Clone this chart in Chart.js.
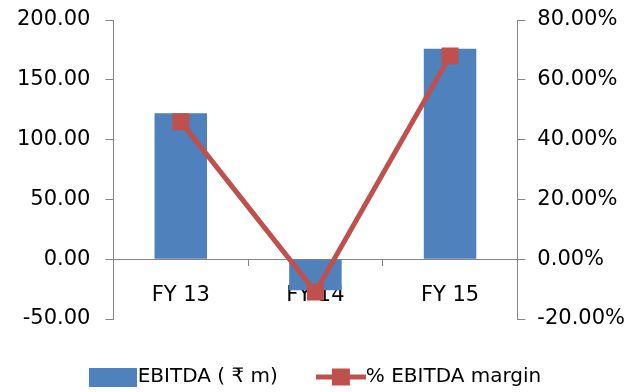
<!DOCTYPE html>
<html>
<head>
<meta charset="utf-8">
<script src="https://cdn.jsdelivr.net/npm/chart.js@4/dist/chart.umd.min.js"></script>
<style>
  html, body { margin: 0; padding: 0; background: #fff; }
  #wrap { width: 638px; height: 392px; }
</style>
</head>
<body>
<div id="wrap"><canvas id="c" width="638" height="392"></canvas></div>
<script>
// EBITDA (₹ m) and EBITDA margin (%) by financial year
const categories = ['FY 13', 'FY 14', 'FY 15'];
const ebitda = [122, -26, 176];
const ebitdaMargin = [46, -11, 68];
const leftTicks = [-50, 0, 50, 100, 150, 200];
const rightTicks = [-20, 0, 20, 40, 60, 80];
const seriesNames = ['EBITDA ( \u20B9 m)', '% EBITDA margin'];

const BLUE = '#4F81BD';
const RED = '#C0504D';
const AXIS = '#868686';
const FONT = 'DejaVu Sans';

// small canvases used as legend symbols
function swatch(w, h, paint) {
  const c = document.createElement('canvas');
  c.width = w; c.height = h;
  paint(c.getContext('2d'));
  return c;
}
const barIcon = swatch(48, 19, g => { g.fillStyle = BLUE; g.fillRect(0, 0, 48, 19); });
const lineIcon = swatch(50, 19, g => {
  g.fillStyle = RED;
  g.fillRect(0, 7, 50, 5);
  g.fillRect(16, 1, 18, 17);
});

const fixedTicks = list => scale => { scale.ticks = list.map(v => ({ value: v })); };
// let the end labels overhang the plot area instead of shrinking it
const noEndPadding = scale => { scale.paddingTop = 0; scale.paddingBottom = 0; };

new Chart(document.getElementById('c'), {
  data: {
    labels: categories,
    datasets: [
      {
        type: 'bar',
        label: seriesNames[0],
        data: ebitda,
        yAxisID: 'y',
        backgroundColor: BLUE,
        borderWidth: 0,
        barPercentage: 0.39,
        categoryPercentage: 1,
        order: 2
      },
      {
        type: 'line',
        label: seriesNames[1],
        data: ebitdaMargin,
        yAxisID: 'y1',
        borderColor: RED,
        borderWidth: 5,
        backgroundColor: RED,
        pointStyle: 'rect',
        pointRadius: 12,
        pointBorderWidth: 0,
        pointBackgroundColor: RED,
        tension: 0,
        order: 1
      }
    ]
  },
  options: {
    responsive: false,
    animation: false,
    layout: { padding: { left: 2, right: 1, top: 20, bottom: -5 } },
    plugins: {
      tooltip: { enabled: false },
      legend: {
        position: 'bottom',
        labels: {
          usePointStyle: true,
          pointStyleWidth: 30,
          padding: 48,
          color: '#000',
          font: { family: FONT, size: 20 },
          generateLabels: () => [
            { text: seriesNames[0], pointStyle: barIcon, datasetIndex: 0, hidden: false, lineWidth: 0 },
            { text: seriesNames[1], pointStyle: lineIcon, datasetIndex: 1, hidden: false, lineWidth: 0 }
          ]
        }
      }
    },
    scales: {
      x: {
        type: 'category',
        position: { y: 0 },
        z: 1,
        offset: true,
        grid: { offset: true, drawOnChartArea: false, drawTicks: true, tickLength: 6, color: AXIS },
        border: { color: AXIS, width: 1 },
        ticks: { color: '#000', font: { family: FONT, size: 21 }, padding: 18, maxRotation: 0 }
      },
      y: {
        type: 'linear',
        position: 'left',
        min: leftTicks[0],
        max: leftTicks[leftTicks.length - 1],
        afterBuildTicks: fixedTicks(leftTicks),
        afterFit: noEndPadding,
        grid: { drawOnChartArea: false, drawTicks: true, tickLength: 8, color: AXIS },
        border: { color: AXIS, width: 1 },
        ticks: { color: '#000', font: { family: FONT, size: 21 }, padding: 15,
                 callback: v => v.toFixed(2) }
      },
      y1: {
        type: 'linear',
        position: 'right',
        min: rightTicks[0],
        max: rightTicks[rightTicks.length - 1],
        afterBuildTicks: fixedTicks(rightTicks),
        afterFit: noEndPadding,
        grid: { drawOnChartArea: false, drawTicks: true, tickLength: 8, color: AXIS },
        border: { color: AXIS, width: 1 },
        ticks: { color: '#000', font: { family: FONT, size: 21 }, padding: 12,
                 callback: v => v.toFixed(2) + '%' }
      }
    }
  }
});
</script>
</body>
</html>
